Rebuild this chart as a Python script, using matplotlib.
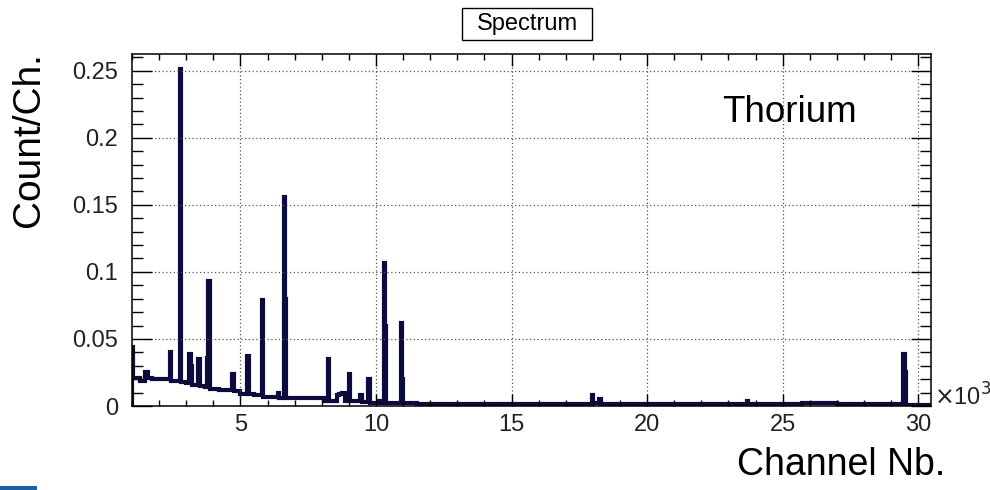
import matplotlib.pyplot as plt
from matplotlib.patches import Rectangle
from matplotlib.ticker import MultipleLocator, FuncFormatter

plt.rcParams['font.family'] = ['Liberation Sans', 'DejaVu Sans']

# histogram bins (channel edges, counts per channel)
chan_edges = [1000, 1050, 1300, 1480, 1600, 1750, 2400, 2450, 2760, 2810,
              3000, 3120, 3170, 3220, 3450, 3500, 3700, 3770, 3820, 3870,
              4200, 4700, 4750, 5000, 5250, 5300, 5500, 5780, 5830, 6370,
              6420, 6600, 6650, 6690, 7000, 8080, 8230, 8280, 8550, 8650,
              8750, 8850, 9000, 9050, 9400, 9500, 9720, 9770, 10100, 10200,
              10280, 10330, 10370, 10920, 10970, 11010, 11500, 17950, 18020, 18220,
              18300, 23680, 23730, 25700, 27000, 29450, 29500, 29540, 30400]
counts = [0.044, 0.021, 0.019, 0.025, 0.021, 0.020, 0.040, 0.019, 0.251, 0.018,
          0.017, 0.039, 0.030, 0.016, 0.035, 0.015, 0.014, 0.036, 0.093, 0.013,
          0.012, 0.024, 0.011, 0.009, 0.037, 0.009, 0.008, 0.079, 0.007, 0.010,
          0.006, 0.156, 0.080, 0.006, 0.006, 0.004, 0.035, 0.004, 0.008, 0.009,
          0.010, 0.004, 0.024, 0.004, 0.008, 0.003, 0.020, 0.002, 0.004, 0.002,
          0.107, 0.060, 0.002, 0.062, 0.020, 0.002, 0.0015, 0.008, 0.002, 0.005,
          0.0015, 0.004, 0.0015, 0.002, 0.0015, 0.039, 0.025, 0.001]

x_ticks = [5000, 10000, 15000, 20000, 25000, 30000]
y_ticks = [0, 0.05, 0.1, 0.15, 0.2, 0.25]

fig = plt.figure(figsize=(9.9, 4.9), dpi=100)
ax = fig.add_axes([132 / 990, 1 - 406 / 490, (931 - 132) / 990, (406 - 54) / 490])

ax.stairs(counts, chan_edges, color='#0b0b3d', linewidth=3.0)

ax.set_xlim(1000, 30470)
ax.set_ylim(0, 0.2625)

ax.set_xticks(x_ticks)
ax.set_yticks(y_ticks)
ax.xaxis.set_minor_locator(MultipleLocator(1000))
ax.yaxis.set_minor_locator(MultipleLocator(0.01))
ax.xaxis.set_major_formatter(FuncFormatter(lambda v, p: '%d' % round(v / 1000)))
ax.yaxis.set_major_formatter(FuncFormatter(lambda v, p: '0' if v == 0 else ('%g' % v)))

ax.tick_params(axis='both', which='both', direction='in', top=True, right=True,
               colors='black', width=1.0)
ax.tick_params(axis='x', which='major', length=8.5, pad=6, labelsize=17)
ax.tick_params(axis='x', which='minor', length=4.3)
ax.tick_params(axis='y', which='major', length=14.5, pad=10, labelsize=17)
ax.tick_params(axis='y', which='minor', length=8)
for lab in ax.get_xticklabels() + ax.get_yticklabels():
    lab.set_color('#222222')

ax.grid(True, which='major', color='#555555', linestyle=(0, (1, 2)), linewidth=0.9)
for s in ax.spines.values():
    s.set_linewidth(1.1)
    s.set_color('black')

# axis texts placed like the ROOT canvas
fig.text(945 / 990, 1 - 465 / 490, 'Channel Nb.', ha='right', va='center', fontsize=27)
fig.text(29 / 990, 1 - 140 / 490, 'Count/Ch.', ha='center', va='center',
         rotation=90, fontsize=28)
fig.text(722 / 990, 1 - 112 / 490, 'Thorium', ha='left', va='center', fontsize=26.5)
fig.text(934 / 990, 1 - 397 / 490, r'$\times$10$^{3}$', ha='left', va='center',
         fontsize=17, color='#222222')

# title box
fig.patches.append(Rectangle((462 / 990, 1 - 40 / 490), 130 / 990, 32 / 490,
                             transform=fig.transFigure, facecolor='white',
                             edgecolor='black', linewidth=1.0))
fig.text(527 / 990, 1 - 24 / 490, 'Spectrum', ha='center', va='center', fontsize=17)

# cut-off logo strip in the lower left corner
fig.patches.append(Rectangle((0, 0), 37 / 990, 4 / 490, transform=fig.transFigure,
                             facecolor='#1f5fa8', edgecolor='none'))

fig.savefig('out.png', dpi=100)
